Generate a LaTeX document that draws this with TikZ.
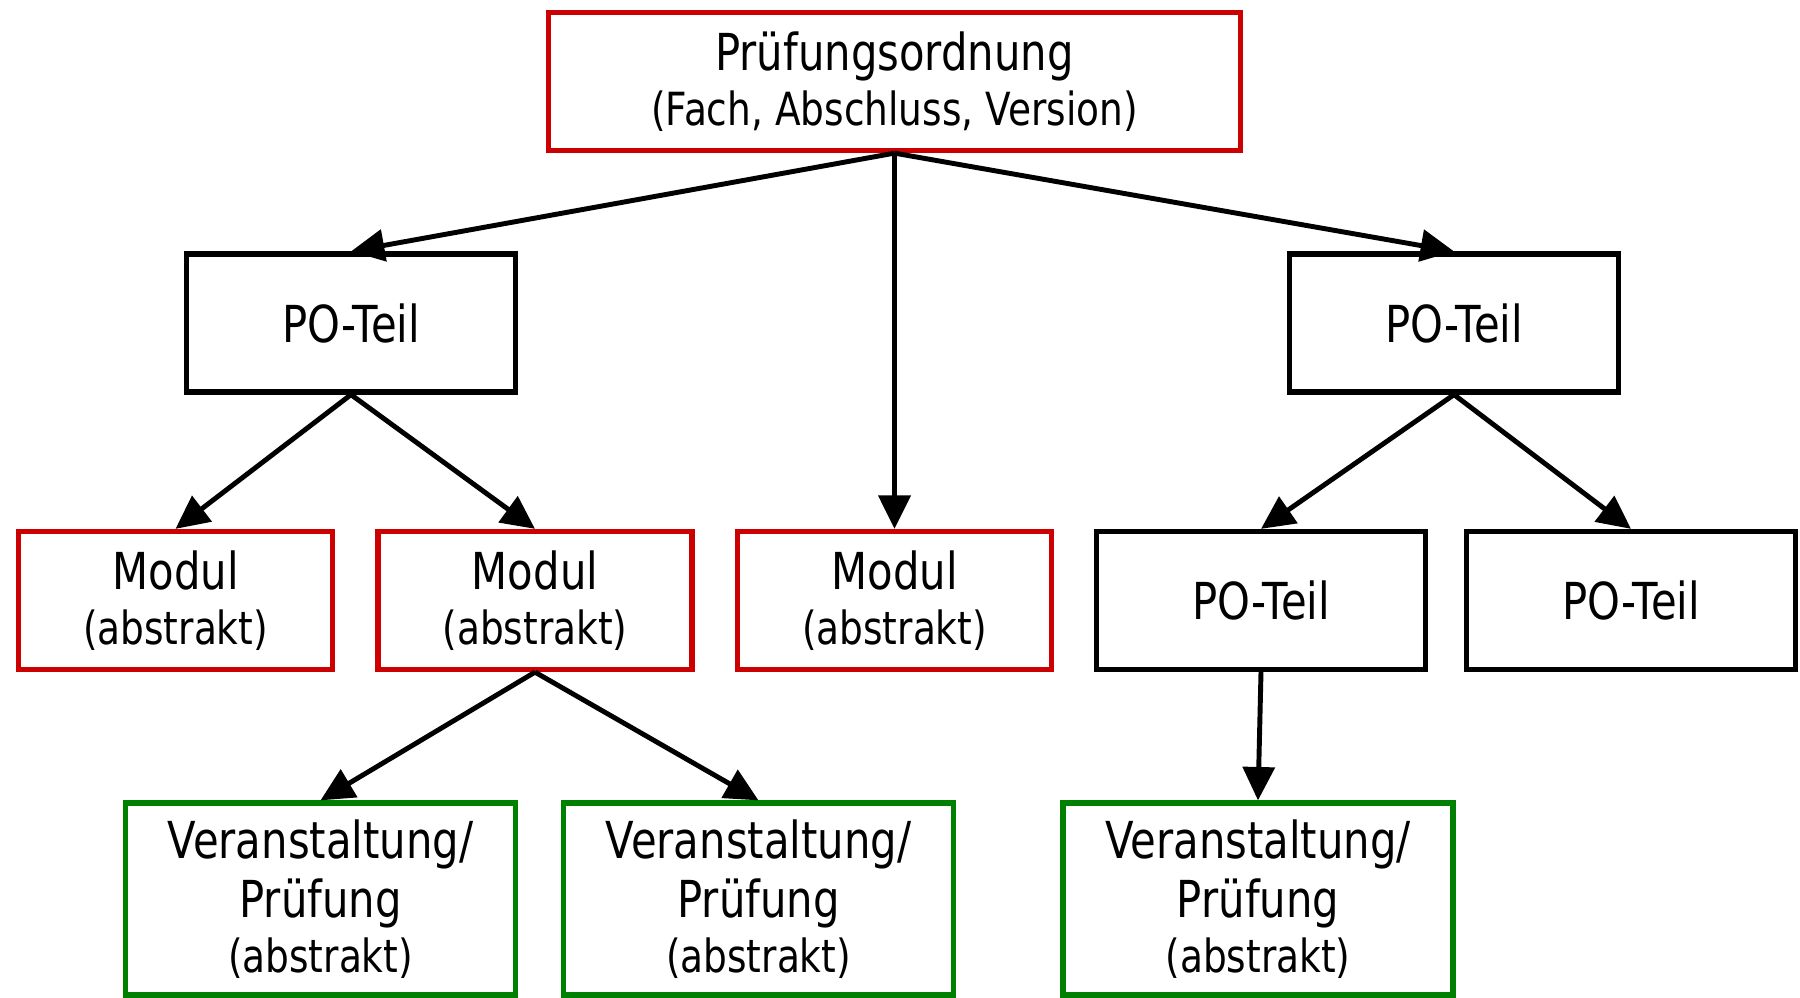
\documentclass[tikz,border=0pt]{standalone}
\usepackage{fontspec}
\setmainfont[FakeStretch=0.82]{DejaVu Sans}
\usetikzlibrary{arrows.meta}
\definecolor{porot}{RGB}{204,0,0}
\definecolor{pogruen}{RGB}{0,128,0}
\newcommand{\klein}{\fontsize{26}{30}\selectfont}
\begin{document}
\begin{tikzpicture}[x=0.02cm,y=-0.02cm,
  kasten/.style={draw, line width=3pt, align=center, inner sep=0pt,
    font=\fontsize{29}{34}\selectfont, minimum height=138*0.02cm},
  rot/.style={kasten, draw=porot},
  gruen/.style={kasten, draw=pogruen, minimum height=192*0.02cm},
  schwarz/.style={kasten, draw=black},
  pfeil/.style={line width=2.8pt, -{Triangle[length=19pt,width=18pt]}}]
\useasboundingbox (0,0) rectangle (1800,998);

\node[rot, minimum width=692*0.02cm] (po) at (894.5,81.5) {Prüfungsordnung\\[-3pt]{\klein (Fach, Abschluss, Version)}};
\node[schwarz, minimum width=329*0.02cm] (teilA) at (351,323) {PO-Teil};
\node[schwarz, minimum width=329*0.02cm] (teilB) at (1454,323) {PO-Teil};
\node[rot, minimum width=314*0.02cm] (modA) at (175.5,600.5) {Modul\\[-3pt]{\klein (abstrakt)}};
\node[rot, minimum width=314*0.02cm] (modB) at (535,600.5) {Modul\\[-3pt]{\klein (abstrakt)}};
\node[rot, minimum width=314*0.02cm] (modC) at (894.5,600.5) {Modul\\[-3pt]{\klein (abstrakt)}};
\node[schwarz, minimum width=329*0.02cm] (teilC) at (1261,600.5) {PO-Teil};
\node[schwarz, minimum width=329*0.02cm] (teilD) at (1631,600.5) {PO-Teil};
\node[gruen, minimum width=390*0.02cm] (vaA) at (320.5,899) {Veranstaltung/\\Prüfung\\[-3pt]{\klein (abstrakt)}};
\node[gruen, minimum width=390*0.02cm] (vaB) at (758.5,899) {Veranstaltung/\\Prüfung\\[-3pt]{\klein (abstrakt)}};
\node[gruen, minimum width=390*0.02cm] (vaC) at (1258,899) {Veranstaltung/\\Prüfung\\[-3pt]{\klein (abstrakt)}};

\draw[pfeil] (po.south) to (teilA.north);
\draw[pfeil] (po.south) to (modC.north);
\draw[pfeil] (po.south) to (teilB.north);
\draw[pfeil] (teilA.south) to (modA.north);
\draw[pfeil] (teilA.south) to (modB.north);
\draw[pfeil] (teilB.south) to (teilC.north);
\draw[pfeil] (teilB.south) to (teilD.north);
\draw[pfeil] (modB.south) to (vaA.north);
\draw[pfeil] (modB.south) to (vaB.north);
\draw[pfeil] (teilC.south) to (vaC.north);
\end{tikzpicture}
\end{document}
